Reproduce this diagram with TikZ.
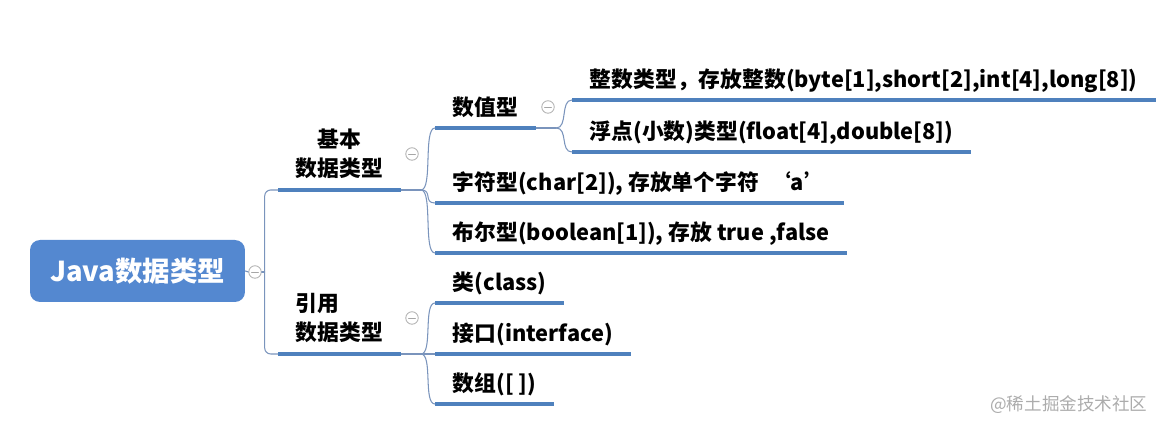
\documentclass[tikz,border=0pt]{standalone}
\usepackage{fontspec}
\setmainfont{Noto Sans CJK SC}
\definecolor{rootblue}{RGB}{84,136,208}
\definecolor{lineblue}{RGB}{79,129,189}
\definecolor{linkblue}{RGB}{122,148,188}
\begin{document}
\begin{tikzpicture}[x=0.02cm,y=-0.02cm,line join=round,line cap=round,
    root/.style={rounded corners=0.2cm,fill=rootblue,text=white,font=\bfseries\fontsize{15.6}{18}\selectfont,minimum width=4.3cm,minimum height=1.24cm,inner sep=0pt},
    branch/.style={anchor=south west,font=\bfseries\fontsize{12.4}{16.5}\selectfont,inner xsep=10pt,inner ysep=6.5pt},
    leaf/.style={anchor=south west,font=\bfseries\fontsize{12.4}{16.5}\selectfont,inner xsep=10pt,inner ysep=4.7pt,text height=0.82em,text depth=0.2em},
    uline/.style={draw=lineblue,line width=2.2pt,line cap=butt},
    link/.style={draw=linkblue,line width=0.6pt},
    fold/.style={circle,draw=gray!60,fill=white,line width=0.5pt,minimum size=0.25cm,inner sep=0pt,
        path picture={\draw[gray!70,line width=0.5pt] ([xshift=-0.07cm]path picture bounding box.center)--([xshift=0.07cm]path picture bounding box.center);}}]
    \useasboundingbox (0,0) rectangle (1167,431);

    \node[root] (java) at (137.5,271) {Java数据类型};
    \node[fold] (f0) at (255,272) {};

    % hai nhánh chính
    \node[branch,align=center] (basic) at (278,190) {基本\\数据类型};
    \node[branch,align=left] (ref) at (278,354) {引用\\数据类型};
    \node[fold] (f1) at (412,154) {};
    \node[fold] (f2) at (412,318) {};

    \node[leaf] (num) at (435,128) {数值型};
    \node[leaf] (char) at (435,203) {字符型(char[2]), 存放单个字符\ \ ‘a’};
    \node[leaf] (bool) at (435,253) {布尔型(boolean[1]), 存放 true ,false};
    \node[fold] (f3) at (548,107) {};
    \node[leaf] (int) at (572,100) {整数类型，存放整数(byte[1],short[2],int[4],long[8])};
    \node[leaf] (float) at (572,152) {浮点(小数)类型(float[4],double[8])};

    \node[leaf] (cls) at (435,303) {类(class)};
    \node[leaf] (intf) at (435,354) {接口(interface)};
    \node[leaf] (arr) at (435,404) {数组([ ])};

    \node[anchor=west,inner sep=0pt,text=gray!65,font=\fontsize{10}{12}\selectfont] (wm) at (990,405) {@稀土掘金技术社区};

    \draw[link] (java.east) -- (f0.west);
    \draw[link] (f0.east) -- ++(3,0) coordinate (j0);
    \draw[link,rounded corners=0.12cm] (j0) |- (basic.south west);
    \draw[link,rounded corners=0.12cm] (j0) |- (ref.south west);

    \draw[link] (basic.south east) -- ++(20,0) coordinate (j1);
    \foreach \c in {num,char,bool}
        \draw[link] (j1) .. controls +(12,0) and +(-12,0) .. (\c.south west);
    \draw[link] (ref.south east) -- ++(20,0) coordinate (j2);
    \foreach \c in {cls,intf,arr}
        \draw[link] (j2) .. controls +(12,0) and +(-12,0) .. (\c.south west);
    \draw[link] (num.south east) -- ++(20,0) coordinate (j3);
    \foreach \c in {int,float}
        \draw[link] (j3) .. controls +(12,0) and +(-12,0) .. (\c.south west);

    \foreach \n in {basic,ref,num,char,bool,int,float,cls,intf,arr}
        \draw[uline] (\n.south west) -- (\n.south east);
\end{tikzpicture}
\end{document}
